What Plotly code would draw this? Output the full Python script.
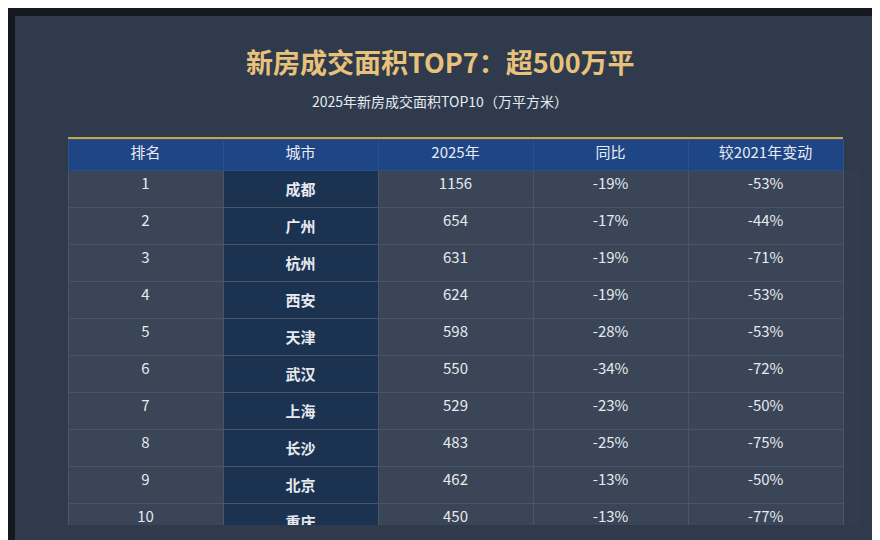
import plotly.graph_objects as go

ranks = [1, 2, 3, 4, 5, 6, 7, 8, 9, 10]
cities = ["成都", "广州", "杭州", "西安", "天津", "武汉", "上海", "长沙", "北京", "重庆"]
area_2025 = [1156, 654, 631, 624, 598, 550, 529, 483, 462, 450]
yoy = ["-19%", "-17%", "-19%", "-19%", "-28%", "-34%", "-23%", "-25%", "-13%", "-13%"]
vs_2021 = ["-53%", "-44%", "-71%", "-53%", "-53%", "-72%", "-50%", "-75%", "-50%", "-77%"]
headers = ["排名", "城市", "2025年", "同比", "较2021年变动"]

# page has an 8px body margin, so work in shifted coordinates
OFF = 8
W, H = 880 - 2 * OFF, 540 - OFF
font = "Noto Sans CJK SC"
plain = "#3a4557"
city_bg = "#1b3250"
n = len(ranks)


def px(x):
    return (x - OFF) / W


def py(y):
    return 1 - (y - OFF) / H


fig = go.Figure(go.Table(
    domain=dict(x=[px(68), px(843)], y=[py(525), py(139)]),
    columnwidth=[1, 1, 1, 1, 1],
    header=dict(values=headers, fill_color="#1e4585", line_color="#2d4f86",
                height=31, align="center",
                font=dict(family=font, size=15, color="#e8ecf2")),
    cells=dict(values=[ranks, ["<b>%s</b>" % c for c in cities], area_2025, yoy, vs_2021],
               fill_color=[[plain] * n, [city_bg] * n, [plain] * n, [plain] * n, [plain] * n],
               line_color="#4a5668", height=31.4, align="center",
               font=dict(family=font, size=15, color="#e6eaf0")),
))

fig.update_layout(
    width=W, height=H, margin=dict(l=0, r=0, t=0, b=0),
    paper_bgcolor="#15181f",
    shapes=[
        dict(type="rect", xref="paper", yref="paper", layer="below",
             x0=px(15), x1=px(872), y0=0, y1=py(16),
             fillcolor="#2f3b4d", line_width=0),
        dict(type="line", xref="paper", yref="paper", x0=px(68), x1=px(843),
             y0=py(138), y1=py(138), line=dict(color="#c8a54a", width=2)),
    ],
    annotations=[
        dict(text="<b>新房成交面积TOP7：超500万平</b>", x=0.5, y=py(62), xref="paper", yref="paper",
             yanchor="middle", showarrow=False, font=dict(family=font, size=27, color="#e8c27a")),
        dict(text="2025年新房成交面积TOP10（万平方米）", x=0.5, y=py(101), xref="paper", yref="paper",
             yanchor="middle", showarrow=False, font=dict(family=font, size=14, color="#e6eaf0")),
    ],
)

fig.write_html("out.html")
